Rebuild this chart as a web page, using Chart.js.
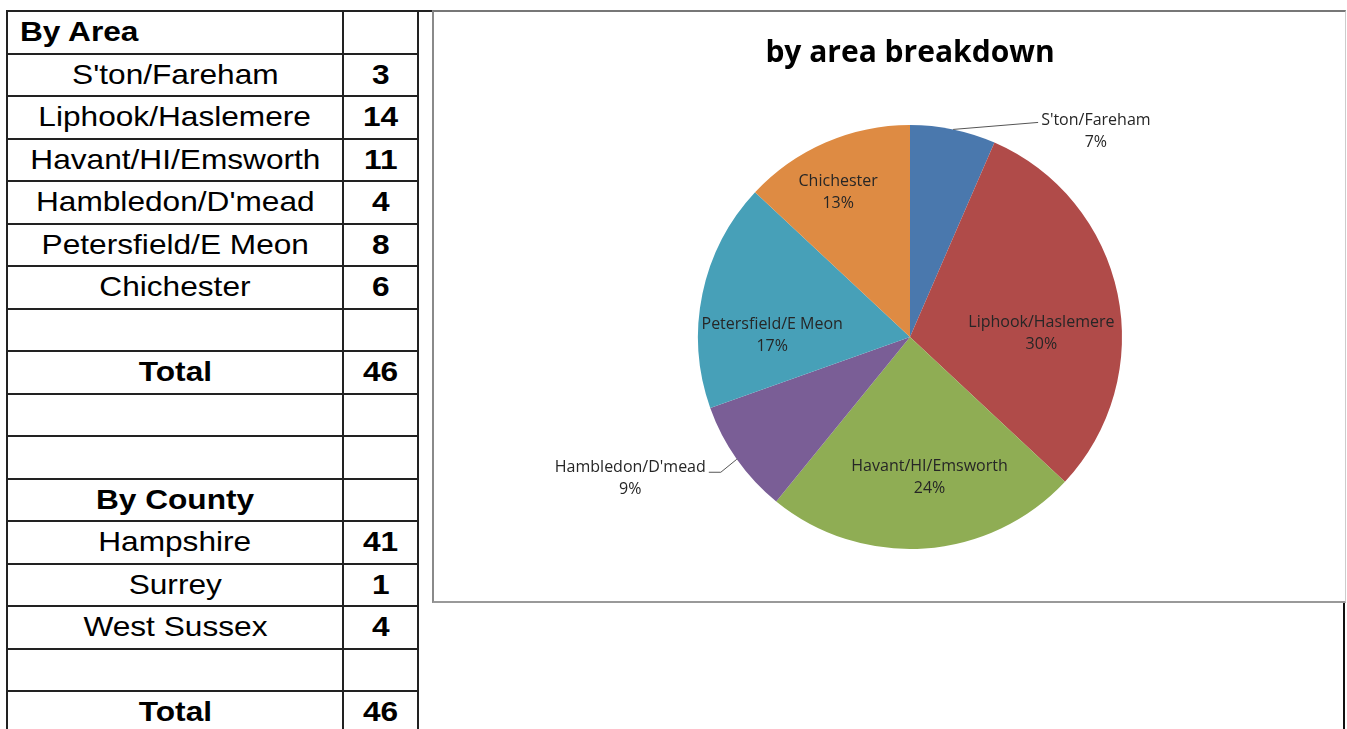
<!DOCTYPE html>
<html>
<head>
<meta charset="utf-8">
<script src="https://cdn.jsdelivr.net/npm/chart.js@4"></script>
<style>
  html, body { margin: 0; padding: 0; background: #fff; overflow: hidden; }
  body { width: 1347px; height: 729px; position: relative; font-family: "Liberation Sans", Arial, sans-serif; }
  #sheet { position: absolute; left: 6px; top: 10px; border-collapse: collapse; table-layout: fixed; width: 411px; }
  #sheet td { border: 2px solid #222; height: 40.5px; padding: 0; font-size: 28px; text-align: center; color: #000;
              white-space: nowrap; overflow: visible; }
  #sheet col.name { width: 336px; }
  #sheet col.num { width: 75px; }
  #sheet td.num { font-weight: bold; }
  #sheet td.bold { font-weight: bold; }
  #sheet td.left { text-align: left; padding-left: 12px; }
  #sheet span { display: inline-block; transform: scaleX(1.13); transform-origin: center; }
  #sheet td.left span { transform-origin: left; }
  #topline { position: absolute; left: 7px; top: 10px; width: 426px; height: 2px; background: #222; }
  #box { position: absolute; left: 432px; top: 10px; width: 911px; height: 589px;
         border-left: 2px solid #8a8a8a; border-top: 2px solid #777; border-right: 1px solid #ccc; border-bottom: 2px solid #999; }
  #box canvas { position: absolute; left: 0; top: 0; }
  #rightline { position: absolute; left: 1343px; top: 603px; width: 2px; height: 130px; background: #111; }
</style>
</head>
<body>
<table id="sheet"><colgroup><col class="name"><col class="num"></colgroup><tbody id="sheetBody"></tbody></table>
<div id="topline"></div>
<div id="box"><canvas id="areaChart" width="911" height="589"></canvas></div>
<div id="rightline"></div>
<script>
const areaNames = ["S'ton/Fareham", 'Liphook/Haslemere', 'Havant/HI/Emsworth', "Hambledon/D'mead", 'Petersfield/E Meon', 'Chichester'];
const areaCounts = [3, 14, 11, 4, 8, 6];
const countyNames = ['Hampshire', 'Surrey', 'West Sussex'];
const countyCounts = [41, 1, 4];
const sliceColors = ['#4a78ad', '#b04b49', '#8fad54', '#7a5e96', '#47a0b8', '#de8b43'];

// where each slice label goes, relative to its slice
const labelLayout = [
  { outside: true, leader: [85, -7], run: 0, textDy: -2 },
  { frac: 0.62, shift: 10 },
  { frac: 0.67, shift: -4 },
  { outside: true, leader: [-16, 13], run: -12, textDy: -5 },
  { frac: 0.65, shift: -11 },
  { frac: 0.76, shift: -3 }
];

function sum(arr) {
  return arr.reduce((a, b) => a + b, 0);
}

function buildTable() {
  const rows = [];
  rows.push(['By Area', '', 'bold left']);
  areaNames.forEach((name, i) => rows.push([name, areaCounts[i], '']));
  rows.push(['', '', '']);
  rows.push(['Total', sum(areaCounts), 'bold']);
  rows.push(['', '', '']);
  rows.push(['', '', '']);
  rows.push(['By County', '', 'bold']);
  countyNames.forEach((name, i) => rows.push([name, countyCounts[i], '']));
  rows.push(['', '', '']);
  rows.push(['Total', sum(countyCounts), 'bold']);

  document.getElementById('sheetBody').innerHTML = rows.map((r) => `
    <tr>
      <td class="${r[2]}"><span>${r[0]}</span></td>
      <td class="num"><span>${r[1]}</span></td>
    </tr>`).join('');
}

const sliceLabels = {
  id: 'sliceLabels',
  afterDatasetsDraw(chart) {
    const ctx = chart.ctx;
    const meta = chart.getDatasetMeta(0);
    const values = chart.data.datasets[0].data;
    const total = sum(values);

    ctx.save();
    ctx.font = '16px "Open Sans"';
    ctx.fillStyle = '#262626';
    ctx.strokeStyle = '#555';
    ctx.lineWidth = 1;
    ctx.textBaseline = 'middle';
    ctx.textAlign = 'center';

    meta.data.forEach((arc, i) => {
      const p = arc.getProps(['x', 'y', 'startAngle', 'endAngle', 'outerRadius'], true);
      const lay = labelLayout[i];
      const mid = (p.startAngle + p.endAngle) / 2;
      const lines = [chart.data.labels[i], Math.round(values[i] / total * 100) + '%'];
      const w = Math.max(...lines.map((t) => ctx.measureText(t).width));

      if (lay.outside) {
        const sx = p.x + Math.cos(mid) * p.outerRadius;
        const sy = p.y + Math.sin(mid) * p.outerRadius;
        const ex = sx + lay.leader[0];
        const ey = sy + lay.leader[1];
        const fx = ex + lay.run;
        ctx.beginPath();
        ctx.moveTo(sx, sy);
        ctx.lineTo(ex, ey);
        ctx.lineTo(fx, ey);
        ctx.stroke();
        const toRight = lay.leader[0] >= 0;
        const cx = toRight ? fx + 3 + w / 2 : fx - 3 - w / 2;
        ctx.fillText(lines[0], cx, ey + lay.textDy);
        ctx.fillText(lines[1], cx, ey + lay.textDy + 22);
      } else {
        const a = mid + lay.shift * Math.PI / 180;
        const cx = p.x + Math.cos(a) * p.outerRadius * lay.frac;
        const cy = p.y + Math.sin(a) * p.outerRadius * lay.frac;
        ctx.fillText(lines[0], cx, cy - 11);
        ctx.fillText(lines[1], cx, cy + 11);
      }
    });
    ctx.restore();
  }
};

function drawChart() {
  const ctx = document.getElementById('areaChart').getContext('2d');
  new Chart(ctx, {
    type: 'pie',
    data: {
      labels: areaNames,
      datasets: [{
        data: areaCounts,
        backgroundColor: sliceColors,
        borderWidth: 0
      }]
    },
    options: {
      responsive: false,
      animation: false,
      events: [],
      layout: {
        padding: { left: 264, right: 223, top: 23, bottom: 52 }
      },
      plugins: {
        legend: { display: false },
        tooltip: { enabled: false },
        title: {
          display: true,
          text: 'by area breakdown',
          color: '#000',
          font: { family: 'Open Sans', size: 30, weight: 'bold', lineHeight: 1.2 },
          padding: { top: 0, bottom: 54 }
        }
      }
    },
    plugins: [sliceLabels]
  });
}

buildTable();
drawChart();
</script>
</body>
</html>
